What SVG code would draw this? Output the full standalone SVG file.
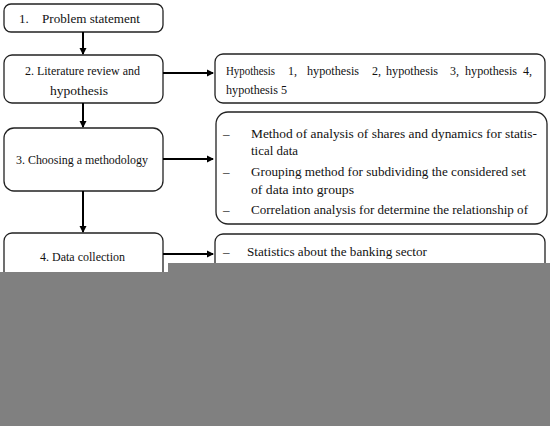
<svg xmlns="http://www.w3.org/2000/svg" width="550" height="426" viewBox="0 0 550 426">
<style>
.box{fill:#fff;stroke:#222;stroke-width:1.3}
.t{font-family:"Liberation Serif","Times New Roman",serif;font-size:13px;fill:#111}
.s{font-size:12px}
.ln{stroke:#000;stroke-width:2;fill:none}
</style>
<defs>
<marker id="ah" markerWidth="8" markerHeight="8" refX="6" refY="4" orient="auto" markerUnits="userSpaceOnUse">
<path d="M0,0.5 L7,4 L0,7.5 Z" fill="#000"/>
</marker>
</defs>
<rect width="550" height="426" fill="#fff"/>
<g id="n1"><rect class="box" x="4" y="4" width="159" height="28" rx="7"/><text class="t" x="19" y="23">1.</text><text class="t" x="42" y="23" textLength="98" lengthAdjust="spacingAndGlyphs">Problem statement</text></g>
<g id="n2"><rect class="box" x="4" y="55" width="159" height="48" rx="8"/><text class="t" x="25" y="75" textLength="115" lengthAdjust="spacingAndGlyphs">2. Literature review and</text><text class="t" x="50" y="95" textLength="58" lengthAdjust="spacingAndGlyphs">hypothesis</text></g>
<g id="n3"><rect class="box" x="4" y="128" width="159" height="63" rx="10"/><text class="t" x="16" y="164" textLength="132" lengthAdjust="spacingAndGlyphs">3. Choosing a methodology</text></g>
<g id="n4"><rect class="box" x="4" y="233" width="159" height="60" rx="8"/><text class="t" x="40" y="261" textLength="85" lengthAdjust="spacingAndGlyphs">4. Data collection</text></g>
<g id="h"><rect class="box" x="215" y="54" width="330" height="49" rx="8"/>
<text class="t s" x="226" y="75" textLength="49" lengthAdjust="spacingAndGlyphs">Hypothesis</text>
<text class="t s" x="288" y="75">1,</text>
<text class="t s" x="307" y="75" textLength="52" lengthAdjust="spacingAndGlyphs">hypothesis</text>
<text class="t s" x="372" y="75">2,</text>
<text class="t s" x="386" y="75" textLength="52" lengthAdjust="spacingAndGlyphs">hypothesis</text>
<text class="t s" x="450" y="75">3,</text>
<text class="t s" x="465" y="75" textLength="52" lengthAdjust="spacingAndGlyphs">hypothesis</text>
<text class="t s" x="523" y="75">4,</text>
<text class="t s" x="226" y="94" textLength="61" lengthAdjust="spacingAndGlyphs">hypothesis 5</text></g>
<g id="m"><rect class="box" x="216" y="112" width="331" height="112" rx="12"/>
<text class="t" x="223" y="138">–</text><text class="t" x="251" y="138" textLength="286" lengthAdjust="spacingAndGlyphs">Method of analysis of shares and dynamics for statis-</text>
<text class="t" x="251" y="155" textLength="47" lengthAdjust="spacingAndGlyphs">tical data</text>
<text class="t" x="223" y="176">–</text><text class="t" x="251" y="176" textLength="275" lengthAdjust="spacingAndGlyphs">Grouping method for subdividing the considered set</text>
<text class="t" x="251" y="194" textLength="103" lengthAdjust="spacingAndGlyphs">of data into groups</text>
<text class="t" x="223" y="214">–</text><text class="t" x="251" y="214" textLength="277" lengthAdjust="spacingAndGlyphs">Correlation analysis for determine the relationship of</text></g>
<g id="d"><rect class="box" x="215" y="234" width="330" height="60" rx="8"/>
<text class="t" x="223" y="256">–</text><text class="t" x="247" y="256" textLength="180" lengthAdjust="spacingAndGlyphs">Statistics about the banking sector</text></g>
<g id="connectors">
<line class="ln" x1="83" y1="32" x2="83" y2="54" marker-end="url(#ah)"/>
<line class="ln" x1="83" y1="103" x2="83" y2="127" marker-end="url(#ah)"/>
<line class="ln" x1="83" y1="191" x2="83" y2="232" marker-end="url(#ah)"/>
<line class="ln" x1="163" y1="73" x2="213" y2="73" marker-end="url(#ah)"/>
<line class="ln" x1="163" y1="159" x2="213" y2="159" marker-end="url(#ah)"/>
<line class="ln" x1="163" y1="254" x2="213" y2="254" marker-end="url(#ah)"/>
</g>
<polygon points="168,263 550,263 550,426 0,426 0,272 168,272" fill="#808080"/>
</svg>
